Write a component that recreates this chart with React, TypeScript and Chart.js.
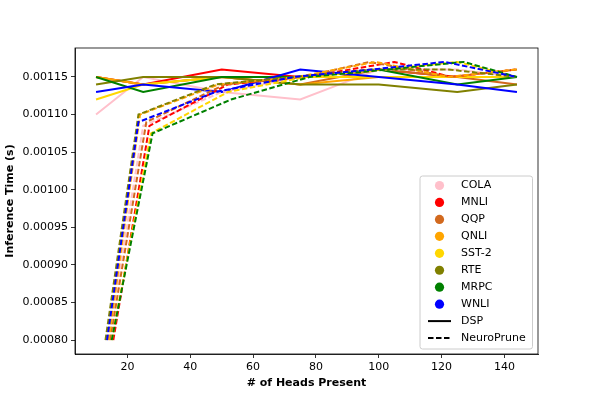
import React, { useEffect, useRef } from "react";
import { Chart, registerables } from "chart.js";
Chart.register(...registerables);

const TASKS = ["COLA", "MNLI", "QQP", "QNLI", "SST-2", "RTE", "MRPC", "WNLI"];
const COLORS = ["#FFC0CB", "#FF0000", "#D2691E", "#FFA500", "#FFD700", "#808000", "#008000", "#0000FF"];

// DSP (solid)
const DSP_HEADS = [10, 25, 50, 75, 100, 125, 144];
const DSP_COLA = [0.0011, 0.00115, 0.00113, 0.00112, 0.00116, 0.00115, 0.00115];
const DSP_MNLI = [0.00115, 0.00114, 0.00116, 0.00115, 0.00116, 0.00115, 0.00115];
const DSP_QQP = [0.00115, 0.00114, 0.00115, 0.00114, 0.00116, 0.00115, 0.00114];
const DSP_QNLI = [0.00115, 0.00114, 0.00115, 0.00114, 0.00115, 0.00115, 0.00115];
const DSP_SST2 = [0.00112, 0.00114, 0.00115, 0.00115, 0.00115, 0.00115, 0.00115];
const DSP_RTE = [0.00114, 0.00115, 0.00115, 0.00114, 0.00114, 0.00113, 0.00114];
const DSP_MRPC = [0.00115, 0.00113, 0.00115, 0.00115, 0.00116, 0.00114, 0.00115];
const DSP_WNLI = [0.00113, 0.00114, 0.00113, 0.00116, 0.00115, 0.00114, 0.00113];

// NeuroPrune (dashed)
const NP_HEADS_COLA = [14, 25, 50, 75, 100, 125, 144];
const NP_COLA = [0.0008, 0.001085, 0.00113, 0.00115, 0.00116, 0.00116, 0.00115];
const NP_HEADS_MNLI = [15.5, 27, 52, 77, 105, 123, 144];
const NP_MNLI = [0.0008, 0.001085, 0.00114, 0.00115, 0.00117, 0.00115, 0.00116];
const NP_HEADS_QQP = [14.5, 26, 51, 76, 97, 123, 144];
const NP_QQP = [0.0008, 0.00109, 0.00114, 0.00115, 0.00117, 0.00115, 0.00116];
const NP_HEADS_QNLI = [14, 24, 49, 74, 99, 122, 144];
const NP_QNLI = [0.0008, 0.0011, 0.00114, 0.00115, 0.00117, 0.00115, 0.00116];
const NP_HEADS_SST2 = [15, 27.5, 52, 77, 102, 125, 144];
const NP_SST2 = [0.0008, 0.001075, 0.00113, 0.00115, 0.00116, 0.00117, 0.00115];
const NP_HEADS_RTE = [13, 23.5, 48, 73, 98, 122, 144];
const NP_RTE = [0.0008, 0.0011, 0.00114, 0.00115, 0.00116, 0.00116, 0.00115];
const NP_HEADS_MRPC = [15, 28, 53, 78, 103, 127, 144];
const NP_MRPC = [0.0008, 0.001075, 0.00112, 0.00115, 0.00116, 0.00117, 0.00115];
const NP_HEADS_WNLI = [13.5, 23.5, 48, 73, 98, 121, 144];
const NP_WNLI = [0.0008, 0.00109, 0.00113, 0.00115, 0.00116, 0.00117, 0.00115];

const X_TICKS = [20, 40, 60, 80, 100, 120, 140];
const Y_TICKS = [0.0008, 0.00085, 0.0009, 0.00095, 0.001, 0.00105, 0.0011, 0.00115];
const X_LABEL = "# of Heads Present";
const Y_LABEL = "Inference Time (s)";
const LEGEND_STYLES = ["DSP", "NeuroPrune"];

const DSP_SERIES = [DSP_COLA, DSP_MNLI, DSP_QQP, DSP_QNLI, DSP_SST2, DSP_RTE, DSP_MRPC, DSP_WNLI];
const NP_SERIES = [NP_COLA, NP_MNLI, NP_QQP, NP_QNLI, NP_SST2, NP_RTE, NP_MRPC, NP_WNLI];
const NP_HEADS = [NP_HEADS_COLA, NP_HEADS_MNLI, NP_HEADS_QQP, NP_HEADS_QNLI, NP_HEADS_SST2, NP_HEADS_RTE, NP_HEADS_MRPC, NP_HEADS_WNLI];

const FONT = "'DejaVu Sans', sans-serif";
const DASH = [5.5, 2.5];

const framePlugin = {
  id: "frame",
  afterDatasetsDraw(chart: any) {
    const { ctx, chartArea: a } = chart;
    ctx.save();
    ctx.strokeStyle = "#000";
    ctx.lineWidth = 0.8;
    ctx.strokeRect(a.left, a.top, a.right - a.left, a.bottom - a.top);
    ctx.restore();
  },
  afterDraw(chart: any) {
    const { ctx } = chart;
    ctx.save();
    const bx = 420, by = 176, bw = 112.5, bh = 173, r = 2.5;
    ctx.beginPath();
    ctx.moveTo(bx + r, by);
    ctx.lineTo(bx + bw - r, by);
    ctx.quadraticCurveTo(bx + bw, by, bx + bw, by + r);
    ctx.lineTo(bx + bw, by + bh - r);
    ctx.quadraticCurveTo(bx + bw, by + bh, bx + bw - r, by + bh);
    ctx.lineTo(bx + r, by + bh);
    ctx.quadraticCurveTo(bx, by + bh, bx, by + bh - r);
    ctx.lineTo(bx, by + r);
    ctx.quadraticCurveTo(bx, by, bx + r, by);
    ctx.closePath();
    ctx.fillStyle = "rgba(255,255,255,0.8)";
    ctx.fill();
    ctx.strokeStyle = "#cccccc";
    ctx.lineWidth = 1;
    ctx.stroke();
    ctx.font = `11px ${FONT}`;
    ctx.textBaseline = "middle";
    ctx.textAlign = "left";
    const step = 16.95;
    let y = 185.5;
    TASKS.forEach((t, i) => {
      ctx.beginPath();
      ctx.arc(439.5, y, 4.6, 0, Math.PI * 2);
      ctx.fillStyle = COLORS[i];
      ctx.fill();
      ctx.fillStyle = "#000";
      ctx.fillText(t, 461, y);
      y += step;
    });
    LEGEND_STYLES.forEach((s, i) => {
      ctx.beginPath();
      ctx.strokeStyle = "#000";
      ctx.lineWidth = 2;
      ctx.setLineDash(i === 0 ? [] : DASH);
      ctx.moveTo(428, y);
      ctx.lineTo(451, y);
      ctx.stroke();
      ctx.setLineDash([]);
      ctx.fillStyle = "#000";
      ctx.fillText(s, 461, y);
      y += step;
    });
    ctx.restore();
  },
};

export default function App() {
  const ref = useRef<HTMLCanvasElement | null>(null);
  useEffect(() => {
    if (!ref.current) return;
    const datasets: any[] = [];
    TASKS.forEach((t, i) => {
      datasets.push({
        label: `${t} DSP`,
        data: DSP_HEADS.map((x, j) => ({ x, y: DSP_SERIES[i][j] })),
        borderColor: COLORS[i],
        backgroundColor: COLORS[i],
        borderWidth: 2,
        pointRadius: 0,
        fill: false,
        tension: 0,
      });
    });
    TASKS.forEach((t, i) => {
      datasets.push({
        label: `${t} NeuroPrune`,
        data: NP_HEADS[i].map((x, j) => ({ x, y: NP_SERIES[i][j] })),
        borderColor: COLORS[i],
        backgroundColor: COLORS[i],
        borderWidth: 2,
        borderDash: DASH,
        pointRadius: 0,
        fill: false,
        tension: 0,
      });
    });
    datasets.forEach((d, i) => (d.order = -i));

    const tickFont = { family: FONT, size: 11 };
    const titleFont = { family: FONT, size: 11, weight: "bold" as const };
    const chart = new Chart(ref.current, {
      type: "line",
      data: { datasets },
      plugins: [framePlugin],
      options: {
        animation: false,
        responsive: false,
        maintainAspectRatio: false,
        layout: { padding: { top: 48, right: 60, left: 0, bottom: 0 } },
        plugins: { legend: { display: false }, tooltip: { enabled: false } },
        scales: {
          x: {
            type: "linear",
            min: 3.3,
            max: 150.7,
            afterBuildTicks: (s: any) => {
              s.ticks = X_TICKS.map((v) => ({ value: v }));
            },
            afterFit: (s: any) => {
              s.height = 44;
            },
            ticks: { font: tickFont, color: "#000", padding: 3, maxRotation: 0, autoSkip: false, callback: (v: any) => String(v) },
            grid: { drawOnChartArea: false, drawTicks: true, tickLength: 4, tickColor: "#000", tickWidth: 0.8, color: "#000" },
            border: { display: true, color: "#000", width: 0.8 },
            title: { display: true, text: X_LABEL, font: titleFont, color: "#000", padding: { top: 0, bottom: 8 } },
          },
          y: {
            type: "linear",
            min: 0.0007815,
            max: 0.0011885,
            afterBuildTicks: (s: any) => {
              s.ticks = Y_TICKS.map((v) => ({ value: v }));
            },
            afterFit: (s: any) => {
              s.width = 75;
            },
            ticks: { font: tickFont, color: "#000", padding: 3, autoSkip: false, callback: (v: any) => Number(v).toFixed(5) },
            grid: { drawOnChartArea: false, drawTicks: true, tickLength: 4, tickColor: "#000", tickWidth: 0.8, color: "#000" },
            border: { display: true, color: "#000", width: 0.8 },
            title: { display: true, text: Y_LABEL, font: titleFont, color: "#000", padding: { top: 4, bottom: 0 } },
          },
        },
      },
    });
    return () => chart.destroy();
  }, []);
  return (
    <div style={{ position: "absolute", left: 0, top: 0, width: 598, height: 398, background: "#fff" }}>
      <canvas ref={ref} width={598} height={398} style={{ width: 598, height: 398 }} />
    </div>
  );
}
